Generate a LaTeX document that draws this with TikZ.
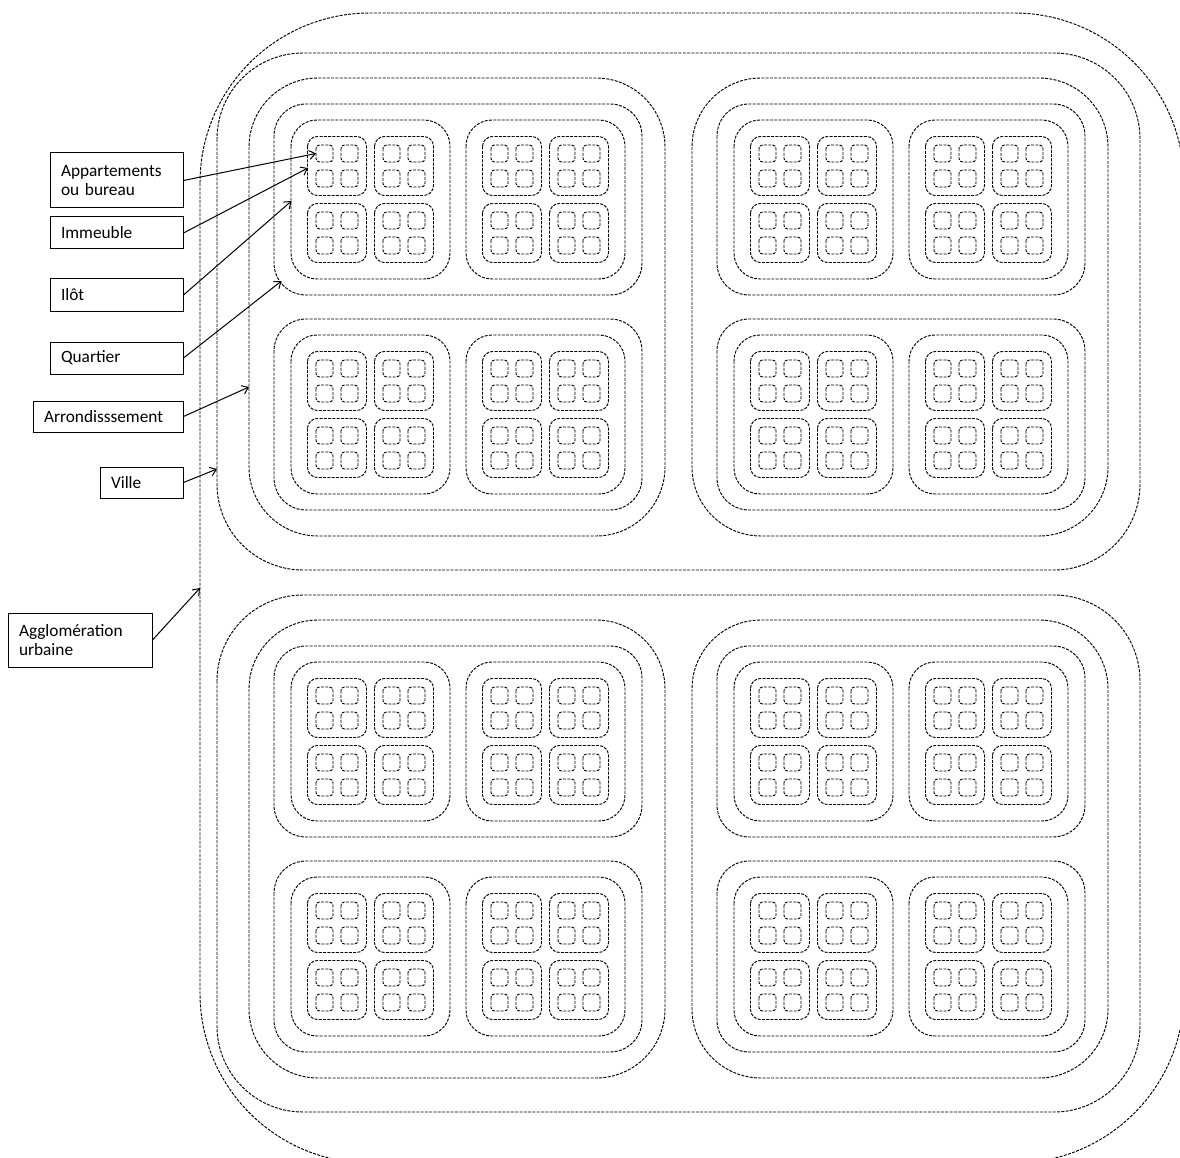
\documentclass[tikz,border=0pt]{standalone}
\usepackage{fontspec}
\setmainfont{Carlito}
\usetikzlibrary{arrows.meta}
\begin{document}
\begin{tikzpicture}[x=1pt,y=-1pt,
  dsh/.style={draw=black, line width=0.95pt, dash pattern=on 3pt off 1.3pt},
  lbl/.style={draw=black, line width=1pt, inner xsep=11pt, inner ysep=0pt, align=left, font=\fontsize{17.3}{19.5}\selectfont},
  arr/.style={line width=1pt, -{Straight Barb[length=6pt,width=9pt]}}]
\useasboundingbox (0,0) rectangle (1180,1158);
\begin{scope}
\clip (0,0) rectangle (1180,1158);
\draw[dsh, rounded corners=170pt] (200,13) rectangle (1184,1163);
\foreach \vy in {53,595}{
 \begin{scope}[shift={(217,\vy)}]
  \draw[dsh, rounded corners=86pt] (0,0) rectangle (923,517);
  \foreach \ax in {32,475}{
   \begin{scope}[shift={(\ax,25)}]
    \draw[dsh, rounded corners=69pt] (0,0) rectangle (416,458);
    \foreach \qy in {26,241}{
     \begin{scope}[shift={(25,\qy)}]
      \draw[dsh, rounded corners=32pt] (0,0) rectangle (368,191);
      \foreach \ix in {17,192}{
       \begin{scope}[shift={(\ix,16)}]
        \draw[dsh, rounded corners=26pt] (0,0) rectangle (159,159);
        \foreach \bx in {16.5,83.5}{\foreach \by in {16.5,83.5}{
          \begin{scope}[shift={(\bx,\by)}]
           \draw[dsh, rounded corners=10pt] (0,0) rectangle (59,59);
           \foreach \px in {8.5,33.5}{\foreach \py in {8.5,33.5}{
             \draw[dsh, rounded corners=3.5pt] (\px,\py) rectangle ++(17,17);
           }}
          \end{scope}
        }}
       \end{scope}
      }
     \end{scope}
    }
   \end{scope}
  }
 \end{scope}
}
\end{scope}
\node[lbl, text width=111pt, minimum height=55pt] (lApp) at (116.5,180.5) {Appartements\\ou~bureau};
\node[lbl, text width=111pt, minimum height=32pt] (lImm) at (116.5,233) {Immeuble};
\node[lbl, text width=111pt, minimum height=32pt] (lIlot) at (116.5,295) {Ilôt};
\node[lbl, text width=111pt, minimum height=32pt] (lQuart) at (116.5,358) {Quartier};
\node[lbl, text width=128pt, minimum height=31pt] (lArr) at (108,416.5) {Arrondisssement};
\node[lbl, text width=61pt, minimum height=31pt] (lVille) at (141.5,482.5) {Ville};
\node[lbl, text width=122pt, minimum height=54pt] (lAgglo) at (80,640) {Agglomération\\urbaine};
\coordinate (tApp) at (316,153.5);
\coordinate (tImm) at (308,168);
\coordinate (tIlot) at (291.5,201);
\coordinate (tQuart) at (281.5,281);
\coordinate (tArr) at (249,387);
\coordinate (tVille) at (217,469);
\coordinate (tAgglo) at (200,588);
\draw[arr] (lApp.east) -- (tApp);
\draw[arr] (lImm.east) -- (tImm);
\draw[arr] (lIlot.east) -- (tIlot);
\draw[arr] (lQuart.east) -- (tQuart);
\draw[arr] (lArr.east) -- (tArr);
\draw[arr] (lVille.east) -- (tVille);
\draw[arr] (lAgglo.east) -- (tAgglo);
\end{tikzpicture}
\end{document}
